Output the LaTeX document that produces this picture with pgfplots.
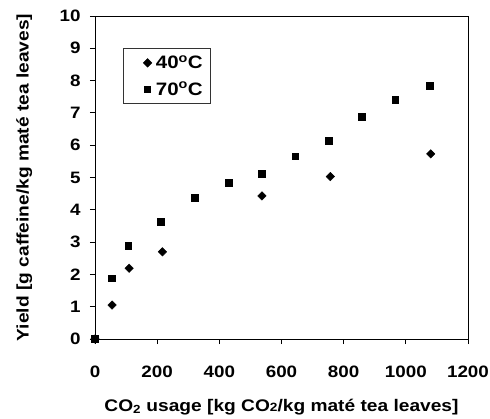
\documentclass[border=0pt]{standalone}
\usepackage{fontspec}
\setmainfont[FakeStretch=1.14]{Liberation Sans}
\usepackage{pgfplots}
\pgfplotsset{compat=1.18}
\pgfplotsset{
  leg diamond/.style={legend image code/.code={\path (0pt,0pt) (24pt,0pt); \draw[##1] plot coordinates {(18pt,0pt)};}},
  leg square/.style={legend image code/.code={\path (0pt,0pt) (24pt,0pt); \draw[##1,mark size=2.8pt] plot coordinates {(18pt,0pt)};}},
}
\begin{document}
\begin{tikzpicture}
\useasboundingbox (0,0) rectangle (490pt,418pt);
\begin{axis}[
  at={(95pt,79pt)}, anchor=south west,
  scale only axis, width=373pt, height=323pt,
  xmin=0, xmax=1200, ymin=0, ymax=10,
  xtick={0,200,...,1200}, ytick={0,1,...,10},
  tick align=outside, tick pos=left, major tick length=5pt,
  axis line style={line width=0.8pt},
  every tick/.style={black, line width=0.8pt},
  ticklabel style={font=\bfseries\fontsize{16.5}{19}\selectfont},
  xticklabel style={yshift=-18pt},
  yticklabel style={xshift=-6pt},
  /pgf/number format/assume math mode=true,
  /pgf/number format/1000 sep={},
  xlabel={CO\textsubscript{2} usage [kg CO{\fontsize{12}{13}\selectfont 2}/kg maté tea leaves]},
  ylabel={Yield [g caffeine/kg maté tea leaves]},
  label style={font=\bfseries\fontsize{16.8}{19}\selectfont},
  xlabel style={at={(axis description cs:0.5,-0.21)}, anchor=center},
  ylabel style={at={(axis description cs:-0.19,0.5)}, anchor=center},
  legend style={at={(0.075,0.9)}, anchor=north west, draw=black!80, line width=0.6pt,
    fill=white, font=\bfseries\fontsize{18}{20}\selectfont,
    inner xsep=6pt, inner ysep=5pt, row sep=8pt},
  legend cell align=left,
]
\addplot[only marks, mark=square*, mark size=3pt, mark options={rotate=45, fill=black}, leg diamond]
coordinates {
  (0,0) (55,1.05) (110,2.19) (217,2.70) (537,4.43) (757,5.03) (1080,5.73)
};
\addlegendentry{40\textsuperscript{o}C}
\addplot[only marks, mark=square*, mark size=3.4pt, mark options={fill=black}, leg square]
coordinates {
  (0,0) (53,1.88) (107,2.90) (211,3.63) (322,4.37) (430,4.85) (536,5.12)
  (644,5.66) (752,6.15) (858,6.89) (966,7.41) (1077,7.83)
};
\addlegendentry{70\textsuperscript{o}C}
\end{axis}
\end{tikzpicture}
\end{document}
